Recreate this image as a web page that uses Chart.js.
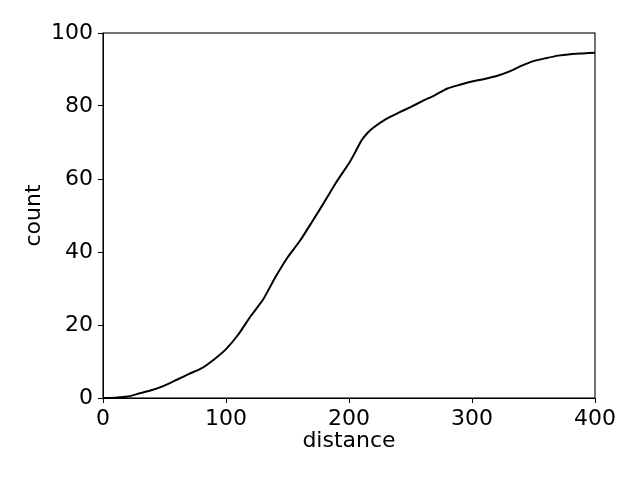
<!DOCTYPE html>
<html>
<head>
<meta charset="utf-8">
<script src="https://cdn.jsdelivr.net/npm/chart.js@4"></script>
<style>
html,body{margin:0;padding:0;background:#fff;}
#wrap{width:640px;height:480px;}
</style>
</head>
<body>
<div id="wrap"><canvas id="c" width="640" height="480"></canvas></div>
<script>
const distance = [0,10,20,30,40,50,60,70,80,90,100,110,120,130,140,150,160,170,180,190,200,205,210,215,220,230,240,250,260,270,280,290,300,310,320,330,340,350,360,370,380,390,400];
const count = [0,0.1,0.4,1.3,2.2,3.4,5.0,6.6,8.1,10.5,13.4,17.4,22.4,26.9,33.0,38.5,43.0,48.3,53.7,59.3,64.3,67.3,70.5,72.6,74.1,76.4,78.1,79.7,81.4,83.0,84.8,85.8,86.7,87.4,88.2,89.4,91.0,92.3,93.1,93.8,94.2,94.4,94.6];
const xTicks = [0,100,200,300,400];
const yTicks = [0,20,40,60,80,100];

const FONT = 'DejaVu Sans';
const FS = 22;

const boxPlugin = {
  id: 'box',
  afterDraw(chart) {
    const a = chart.chartArea, ctx = chart.ctx;
    ctx.save();
    ctx.strokeStyle = '#000';
    ctx.lineWidth = 1.1;
    ctx.strokeRect(a.left, a.top, a.right - a.left, a.bottom - a.top);
    ctx.restore();
  }
};

new Chart(document.getElementById('c'), {
  type: 'line',
  data: {
    datasets: [{
      data: distance.map((d, i) => ({x: d, y: count[i]})),
      borderColor: '#000',
      borderWidth: 2,
      pointRadius: 0,
      tension: 0.2,
      fill: false
    }]
  },
  options: {
    responsive: false,
    animation: false,
    devicePixelRatio: 1,
    layout: {padding: {left: 0, top: 33, right: 45, bottom: 0}},
    plugins: {legend: {display: false}, tooltip: {enabled: false}},
    scales: {
      x: {
        type: 'linear', min: 0, max: 400,
        afterFit(s) { s.height = 82; },
        afterBuildTicks(s) { s.ticks = xTicks.map(v => ({value: v})); },
        grid: {drawOnChartArea: false, drawTicks: true, tickLength: 5, tickColor: '#000', tickWidth: 1},
        border: {display: true, color: '#000', width: 1},
        ticks: {color: '#000', padding: 3, maxRotation: 0, font: {family: FONT, size: FS}},
        title: {display: true, text: 'distance', color: '#000', font: {family: FONT, size: FS}, padding: {top: 0, bottom: 26}}
      },
      y: {
        type: 'linear', min: 0, max: 100,
        afterFit(s) { s.width = 103; },
        afterBuildTicks(s) { s.ticks = yTicks.map(v => ({value: v})); },
        grid: {drawOnChartArea: false, drawTicks: true, tickLength: 5, tickColor: '#000', tickWidth: 1},
        border: {display: true, color: '#000', width: 1},
        ticks: {color: '#000', padding: 5, font: {family: FONT, size: FS}},
        title: {display: true, text: 'count', color: '#000', font: {family: FONT, size: FS}, padding: {top: 21, bottom: 0}}
      }
    }
  },
  plugins: [boxPlugin]
});
</script>
</body>
</html>
